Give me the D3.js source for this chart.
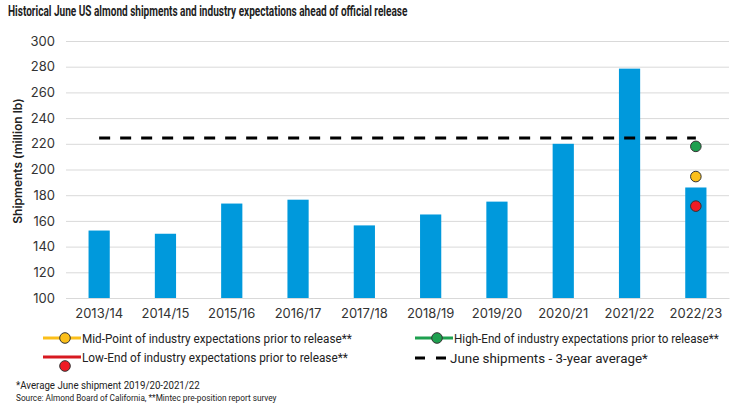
<!DOCTYPE html>
<html>
<head>
<meta charset="utf-8">
<script src="https://cdn.jsdelivr.net/npm/d3@7"></script>
<style>
body { margin:0; background:#fff; }
svg text { fill:#222; }
.narrow { font-family:"Roboto","Inter",sans-serif; }
.ticks { font-family:"Inter","Roboto",sans-serif; }
</style>
</head>
<body>
<div id="chart"></div>
<script>
// chart values
var seasons = ['2013/14','2014/15','2015/16','2016/17','2017/18','2018/19','2019/20','2020/21','2021/22','2022/23']
var shipments = [152.5, 150, 173.5, 176.5, 156.5, 165, 175, 220, 278.5, 186]
var avg3yr = [224.5, 224.5, 224.5, 224.5, 224.5, 224.5, 224.5, 224.5, 224.5, 224.5]
var expectSeason = ['2022/23']
var expectHigh = [218]
var expectMid = [194.5]
var expectLow = [171.5]
var yTicks = [100, 120, 140, 160, 180, 200, 220, 240, 260, 280, 300]

var width = 731, height = 414
var margin = {top:41, right:2, bottom:116, left:66}

var svg = d3.select('#chart').append('svg').attr('width', width).attr('height', height)

var x = d3.scaleBand().domain(seasons).range([margin.left, width - margin.right]).paddingInner(0.68).paddingOuter(0.34)
var y = d3.scaleLinear().domain([100, 300]).range([height - margin.bottom, margin.top])

// condensed look: squeeze text horizontally to the width it has in the reference
function narrowText(parent, tx, ty, w, size, weight, str) {
	var g = parent.append('g').attr('class', 'narrow')
	var t = g.append('text').style('font-size', size + 'px').style('font-weight', weight).style('fill', '#222').text(str)
	var sx = w / t.node().getComputedTextLength()
	g.attr('transform', 'translate(' + tx + ',' + ty + ') scale(' + sx + ',1)')
	return t
}

// title
narrowText(svg, 8, 16, 400, 15, 'bold', 'Historical June US almond shipments and industry expectations ahead of official release')

// grid
svg.append('g').selectAll('line').data(yTicks).enter().append('line')
	.attr('x1', margin.left).attr('x2', width - margin.right)
	.attr('y1', function(d) {return y(d) + 0.5}).attr('y2', function(d) {return y(d) + 0.5})
	.style('stroke', '#d9d9d9').style('stroke-width', 1)

// y axis
var yAxis = svg.append('g').attr('class', 'ticks').attr('transform', 'translate(' + margin.left + ',0)')
	.call(d3.axisLeft(y).tickValues(yTicks).tickSize(0).tickPadding(11))
yAxis.select('.domain').remove()
yAxis.selectAll('text').style('font-size', '13px').style('fill', '#333')

svg.append('text').attr('class', 'ticks').attr('transform', 'translate(22,161) rotate(-90)')
	.attr('text-anchor', 'middle').style('font-size', '12px').style('font-weight', '600').style('fill', '#222')
	.text('Shipments (million lb)')

// bars
svg.append('g').selectAll('rect').data(shipments).enter().append('rect')
	.attr('x', function(d, i) {return x(seasons[i])})
	.attr('width', x.bandwidth())
	.attr('y', function(d) {return y(d)})
	.attr('height', function(d) {return y(100) - y(d)})
	.style('fill', '#0099dc')

// x axis
var xAxis = svg.append('g').attr('class', 'ticks').attr('transform', 'translate(0,' + y(100) + ')')
	.call(d3.axisBottom(x).tickSize(0).tickPadding(11))
xAxis.select('.domain').style('stroke', '#d9d9d9')
xAxis.selectAll('text').style('font-size', '13px').style('fill', '#333')

// 3-year average line
var line = d3.line().x(function(d, i) {return x(seasons[i]) + x.bandwidth() / 2}).y(function(d) {return y(d)})
svg.append('path').datum(avg3yr).attr('d', line)
	.style('fill', 'none').style('stroke', '#000').style('stroke-width', 3).style('stroke-dasharray', '11,10')

// expectation dots
var dots = [
	{vals:expectHigh, color:'#1ea04f'},
	{vals:expectMid, color:'#fbbf1a'},
	{vals:expectLow, color:'#ee1c25'}
]
dots.map(function(s) {
	svg.append('g').selectAll('circle').data(s.vals).enter().append('circle')
		.attr('cx', function(d, i) {return x(expectSeason[i]) + x.bandwidth() / 2})
		.attr('cy', function(d) {return y(d)})
		.attr('r', 5.3)
		.style('fill', s.color).style('stroke', '#333').style('stroke-width', 1)
})

// legend
var legend = svg.append('g')
var legendItems = [
	{label:'Mid-Point of industry expectations prior to release**', color:'#fbbf1a', fill:'#fbbf1a', x:43, y:338, dot:0, w:270},
	{label:'High-End of industry expectations prior to release**', color:'#1ea04f', fill:'#1ea04f', x:415, y:338, dot:0, w:265},
	{label:'Low-End of industry expectations prior to release**', color:'#d71920', fill:'#ee1c25', x:43, y:357, dot:9, w:266}
]
legendItems.map(function(d) {
	legend.append('line').attr('x1', d.x).attr('x2', d.x + 38).attr('y1', d.y).attr('y2', d.y)
		.style('stroke', d.color).style('stroke-width', 3)
	legend.append('circle').attr('cx', d.x + 22).attr('cy', d.y + d.dot).attr('r', 5.3)
		.style('fill', d.fill).style('stroke', '#333').style('stroke-width', 1)
	narrowText(legend, d.x + 39, d.y + 4.5, d.w, 13, 'normal', d.label)
})
legend.append('line').attr('x1', 415).attr('x2', 446).attr('y1', 358).attr('y2', 358)
	.style('stroke', '#000').style('stroke-width', 3).style('stroke-dasharray', '10,11')
narrowText(legend, 450, 362.5, 198, 13, 'normal', 'June shipments - 3-year average*')

// footnotes
narrowText(svg, 16, 389, 184, 11.5, 'normal', '*Average June shipment 2019/20-2021/22')
narrowText(svg, 16, 401, 261, 9, 'normal', 'Source: Almond Board of California, **Mintec pre-position report survey')
</script>
</body>
</html>
